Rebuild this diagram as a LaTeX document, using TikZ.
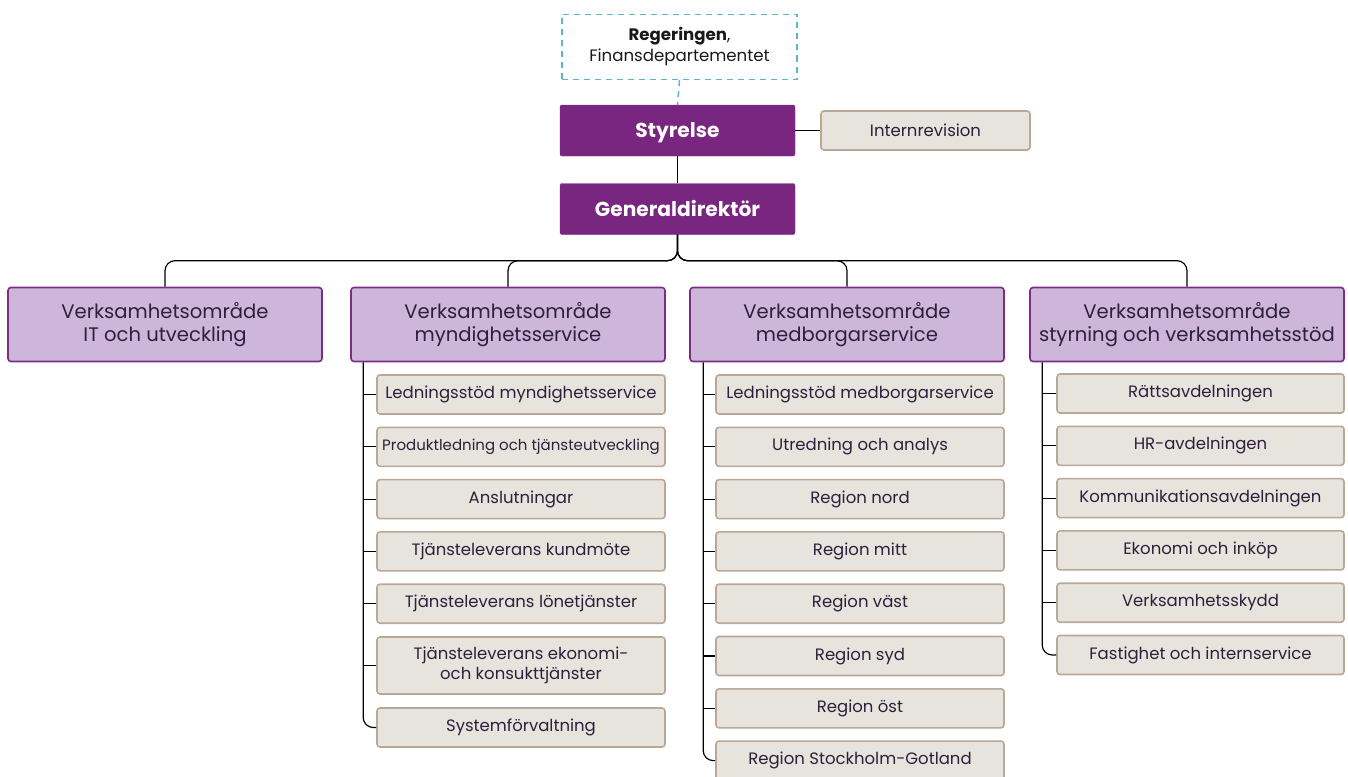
\documentclass[tikz,border=0pt]{standalone}
\usepackage{fontspec}
\setmainfont{Poppins}
\definecolor{txt}{HTML}{2E1F3B}
\definecolor{lila}{HTML}{78267F}
\definecolor{lilaljus}{HTML}{CDB6DA}
\definecolor{lilakant}{HTML}{7B2C84}
\definecolor{beige}{HTML}{E7E3DD}
\definecolor{beigekant}{HTML}{B9A897}
\definecolor{himmel}{HTML}{5BB4C8}
\tikzset{
  ledning/.style={fill=lila, draw=lila, rounded corners=2, minimum width=235, minimum height=51, inner sep=0, text=white, text depth=1, font=\fontsize{20.2}{23}\selectfont\bfseries},
  omrade/.style={fill=lilaljus, draw=lilakant, line width=1.6, rounded corners=3, minimum width=314, minimum height=74, inner sep=0, text=txt, align=center, font=\fontsize{19.6}{23.5}\selectfont},
  enhet/.style={fill=beige, draw=beigekant, line width=1.6, rounded corners=3, minimum width=288, minimum height=39, inner sep=0, text=txt, align=center, font=\fontsize{16.5}{20.5}\selectfont},
  regering/.style={draw=himmel, line width=1.5, dash pattern=on 6 off 5, minimum width=235, minimum height=65, inner sep=0, align=center, text=black!90, font=\fontsize{16.6}{21}\selectfont},
  linje/.style={line width=1.2, rounded corners=10},
}
\begin{document}
\begin{tikzpicture}[x=1pt,y=-1pt]
\useasboundingbox (0,0) rectangle (1348,776);
\clip (0,0) rectangle (1348,776);
% top
\node[regering] (reg) at (679.5,47) {\textbf{Regeringen},\\Finansdepartementet};
\node[ledning] (sty) at (677.5,130.5) {Styrelse};
\node[enhet, minimum width=209] (irev) at (925.5,130.5) {Internrevision};
\node[ledning] (gd) at (677.5,209) {Generaldirektör};
% verksamhetsomraden
\node[omrade] (a1) at (165,324.5) {Verksamhetsområde\\IT och utveckling};
\node[omrade] (a2) at (508,324.5) {Verksamhetsområde\\myndighetsservice};
\node[omrade] (a3) at (847,324.5) {Verksamhetsområde\\medborgarservice};
\node[omrade] (a4) at (1187,324.5) {Verksamhetsområde\\styrning och verksamhetsstöd};
% myndighetsservice
\node[enhet] (m1) at (521,394.5) {Ledningsstöd myndighetsservice};
\node[enhet, font=\fontsize{15}{18}\selectfont] (m2) at (521,446.8) {Produktledning och tjänsteutveckling};
\node[enhet] (m3) at (521,499.1) {Anslutningar};
\node[enhet] (m4) at (521,551.4) {Tjänsteleverans kundmöte};
\node[enhet] (m5) at (521,603.7) {Tjänsteleverans lönetjänster};
\node[enhet, minimum height=57] (m6) at (521,665.5) {Tjänsteleverans ekonomi-\\och konsukttjänster};
\node[enhet] (m7) at (521,727.5) {Systemförvaltning};
% medborgarservice
\foreach \namn [count=\i] in {Ledningsstöd medborgarservice, Utredning och analys, Region nord, Region mitt, Region väst, Region syd, Region öst, Region Stockholm-Gotland}
  \node[enhet] (b\i) at (860,394.5+52.3*\i-52.3) {\namn};
% styrning och verksamhetsstod
\foreach \namn [count=\i] in {Rättsavdelningen, HR-avdelningen, Kommunikationsavdelningen, Ekonomi och inköp, Verksamhetsskydd, Fastighet och internservice}
  \node[enhet, minimum width=287] (s\i) at (1200.5,393.5+52.3*\i-52.3) {\namn};
% linjer
\draw[himmel, line width=1.5, dash pattern=on 6 off 5] (reg.south) -- (sty.north);
\draw[line width=1.2] (sty.south) -- (gd.north);
\draw[line width=1.2] (sty.east) -- (irev.west);
\foreach \o in {a1,a2,a3,a4}
  \draw[linje] (gd.south) -- ++(0,26) -| (\o.north);
\coordinate (r2) at ([xshift=13]a2.south west);
\coordinate (r3) at ([xshift=14]a3.south west);
\coordinate (r4) at ([xshift=13]a4.south west);
\draw[linje] (r2) |- (m7.west);
\foreach \i in {1,...,6} \draw[line width=1.2] (m\i.west -| r2) -- (m\i.west);
\draw[linje] (r3) |- (b8.west);
\foreach \i in {1,...,7} \draw[line width=1.2] (b\i.west -| r3) -- (b\i.west);
\draw[linje] (r4) |- (s6.west);
\foreach \i in {1,...,5} \draw[line width=1.2] (s\i.west -| r4) -- (s\i.west);
\end{tikzpicture}
\end{document}
